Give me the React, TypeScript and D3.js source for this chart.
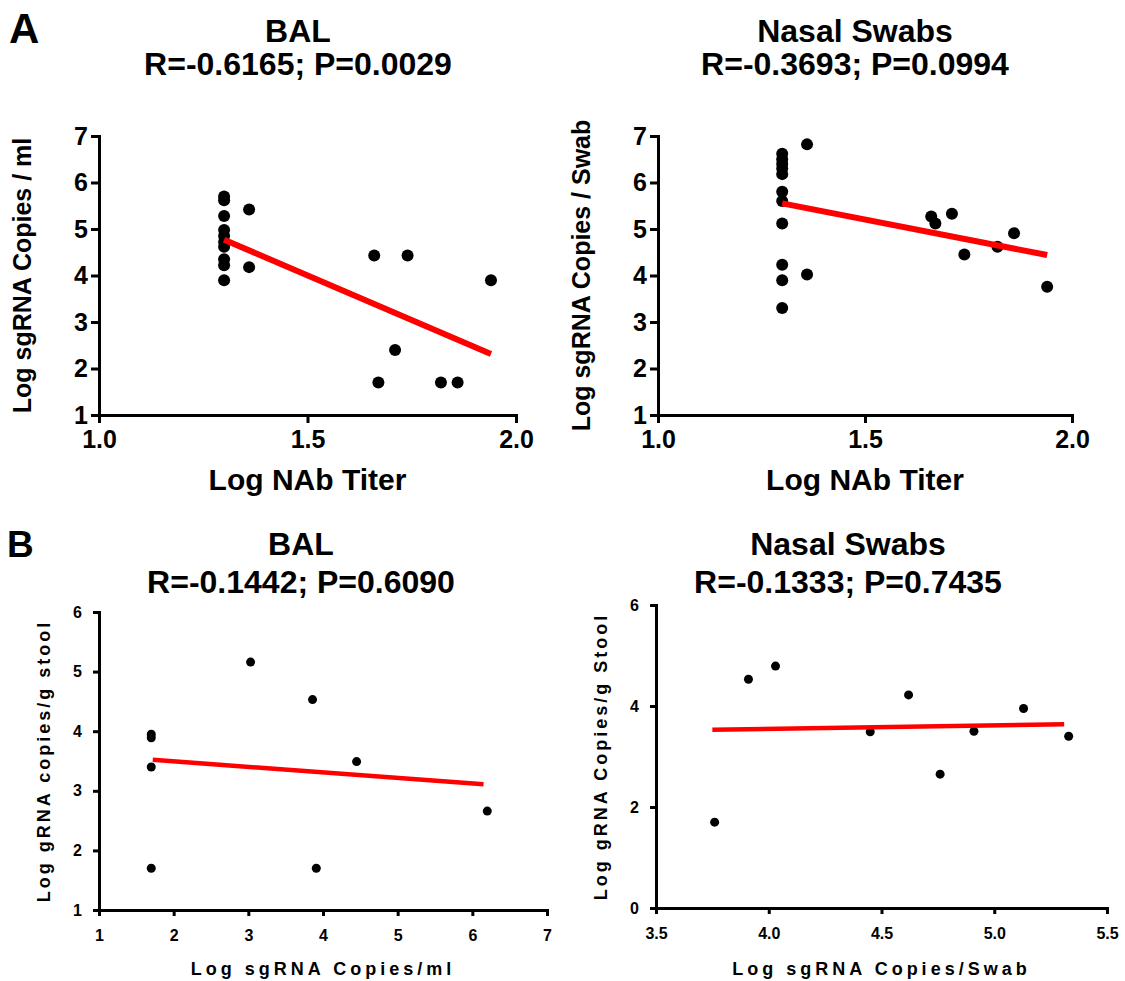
import React, { useEffect, useRef } from "react";
import * as d3 from "d3";

// A: NAb titer vs sgRNA
const balTiter = [1.3, 1.3, 1.3, 1.3, 1.3, 1.3, 1.3, 1.3, 1.3, 1.3, 1.36, 1.36, 1.66, 1.74, 1.94, 1.71, 1.67, 1.82, 1.86];
const balCopies = [5.7, 5.62, 5.28, 4.98, 4.85, 4.72, 4.62, 4.35, 4.22, 3.9, 5.42, 4.18, 4.43, 4.43, 3.9, 2.4, 1.7, 1.7, 1.7];
const balFitX = [1.3, 1.94];
const balFitY = [4.77, 2.31];

const nasalTiter = [1.3, 1.3, 1.3, 1.3, 1.3, 1.3, 1.3, 1.3, 1.3, 1.3, 1.3, 1.36, 1.36, 1.66, 1.67, 1.71, 1.74, 1.82, 1.86, 1.94];
const nasalCopies = [6.62, 6.5, 6.4, 6.3, 6.18, 5.8, 5.6, 5.12, 4.23, 3.9, 3.3, 6.82, 4.02, 5.27, 5.12, 5.33, 4.45, 4.62, 4.91, 3.76];
const nasalFitX = [1.3, 1.94];
const nasalFitY = [5.55, 4.44];

// B: sgRNA vs stool gRNA
const balSg = [1.7, 1.7, 1.7, 1.7, 3.03, 3.86, 4.45, 3.91, 6.2];
const balStool = [3.95, 3.89, 3.4, 1.7, 5.16, 4.53, 3.49, 1.7, 2.66];
const balStoolFitX = [1.72, 6.15];
const balStoolFitY = [3.52, 3.11];

const swabSg = [3.76, 3.91, 4.03, 4.45, 4.62, 4.76, 4.91, 5.13, 5.33];
const swabStool = [1.7, 4.53, 4.79, 3.49, 4.22, 2.65, 3.5, 3.95, 3.4];
const swabStoolFitX = [3.75, 5.31];
const swabStoolFitY = [3.53, 3.64];

const ticksTiter = [1.0, 1.5, 2.0];
const ticksCopiesA = [1, 2, 3, 4, 5, 6, 7];
const ticksSgB1 = [1, 2, 3, 4, 5, 6, 7];
const ticksStoolB1 = [1, 2, 3, 4, 5, 6];
const ticksSgB2 = [3.5, 4.0, 4.5, 5.0, 5.5];
const ticksStoolB2 = [0, 2, 4, 6];

const FONT = "'Liberation Sans', Arial, sans-serif";

const panels = [
  {
    xs: balTiter, ys: balCopies, fx: balFitX, fy: balFitY,
    xDomain: [1, 2], yDomain: [1, 7], xRange: [99, 516], yRange: [415, 136],
    xTicks: ticksTiter, yTicks: ticksCopiesA, xFmt: ".1f",
    title: ["BAL", "R=-0.6165; P=0.0029"], titleX: 298, titleY: [42, 75], titleSize: 32,
    xLabel: "Log NAb Titer", yLabel: "Log sgRNA Copies / ml",
    big: true,
  },
  {
    xs: nasalTiter, ys: nasalCopies, fx: nasalFitX, fy: nasalFitY,
    xDomain: [1, 2], yDomain: [1, 7], xRange: [658, 1072], yRange: [415, 136],
    xTicks: ticksTiter, yTicks: ticksCopiesA, xFmt: ".1f",
    title: ["Nasal Swabs", "R=-0.3693; P=0.0994"], titleX: 855, titleY: [42, 75], titleSize: 32,
    xLabel: "Log NAb Titer", yLabel: "Log sgRNA Copies / Swab",
    big: true,
  },
  {
    xs: balSg, ys: balStool, fx: balStoolFitX, fy: balStoolFitY,
    xDomain: [1, 7], yDomain: [1, 6], xRange: [99, 547], yRange: [910, 612],
    xTicks: ticksSgB1, yTicks: ticksStoolB1, xFmt: "d",
    title: ["BAL", "R=-0.1442; P=0.6090"], titleX: 301, titleY: [555, 593], titleSize: 32,
    xLabel: "Log sgRNA Copies/ml", yLabel: "Log gRNA copies/g stool",
    big: false,
  },
  {
    xs: swabSg, ys: swabStool, fx: swabStoolFitX, fy: swabStoolFitY,
    xDomain: [3.5, 5.5], yDomain: [0, 6], xRange: [656, 1107], yRange: [908, 605],
    xTicks: ticksSgB2, yTicks: ticksStoolB2, xFmt: ".1f",
    title: ["Nasal Swabs", "R=-0.1333; P=0.7435"], titleX: 848, titleY: [555, 593], titleSize: 32,
    xLabel: "Log sgRNA Copies/Swab", yLabel: "Log gRNA Copies/g Stool",
    big: false,
  },
];

const App = () => {
  const svgRef = useRef(null);

  useEffect(() => {
    document.body.style.margin = "0";
    const svg = d3.select(svgRef.current);
    svg.selectAll("*").remove();
    svg.attr("font-family", FONT).attr("font-weight", "bold");

    svg.append("text").attr("x", 9).attr("y", 43).attr("font-size", 42).text("A");
    svg.append("text").attr("x", 7).attr("y", 557).attr("font-size", 37).text("B");

    panels.forEach((p) => {
      const x = d3.scaleLinear().domain(p.xDomain).range(p.xRange);
      const y = d3.scaleLinear().domain(p.yDomain).range(p.yRange);
      const g = svg.append("g");
      const axisW = 3;
      const tickLen = p.big ? 8 : 6;
      const tickFont = p.big ? 25 : 16;

      const xAxis = g
        .append("g")
        .attr("transform", `translate(0,${p.yRange[0]})`)
        .call(
          d3.axisBottom(x).tickValues(p.xTicks).tickSize(tickLen).tickSizeOuter(0)
            .tickPadding(p.big ? 7 : 14).tickFormat(d3.format(p.xFmt))
        );
      const yAxis = g
        .append("g")
        .attr("transform", `translate(${p.xRange[0]},0)`)
        .call(
          d3.axisLeft(y).tickValues(p.yTicks).tickSize(tickLen).tickSizeOuter(0)
            .tickPadding(p.big ? 3 : 11).tickFormat(d3.format("d"))
        );
      [xAxis, yAxis].forEach((a) => {
        a.select(".domain").attr("stroke", "#000").attr("stroke-width", axisW).attr("stroke-linecap", "square");
        a.selectAll(".tick line").attr("stroke", "#000").attr("stroke-width", axisW);
        a.selectAll(".tick text")
          .attr("fill", "#000")
          .attr("font-family", FONT)
          .attr("font-weight", "bold")
          .attr("font-size", tickFont);
      });

      // points
      g.selectAll("circle")
        .data(p.xs.map((v, i) => [v, p.ys[i]]))
        .enter()
        .append("circle")
        .attr("cx", (d) => x(d[0]))
        .attr("cy", (d) => y(d[1]))
        .attr("r", p.big ? 6 : 4.5)
        .attr("fill", "#000");

      // regression line
      const line = d3.line().x((d) => x(d[0])).y((d) => y(d[1]));
      g.append("path")
        .datum(p.fx.map((v, i) => [v, p.fy[i]]))
        .attr("d", line)
        .attr("fill", "none")
        .attr("stroke", "#ff0000")
        .attr("stroke-width", p.big ? 6 : 4.5);

      // titles
      p.title.forEach((t, i) => {
        g.append("text")
          .attr("x", p.titleX)
          .attr("y", p.titleY[i])
          .attr("text-anchor", "middle")
          .attr("font-size", p.titleSize)
          .text(t);
      });

      const xMid = (p.xRange[0] + p.xRange[1]) / 2;
      const yMid = (p.yRange[0] + p.yRange[1]) / 2;
      if (p.big) {
        g.append("text")
          .attr("x", xMid)
          .attr("y", 490)
          .attr("text-anchor", "middle")
          .attr("font-size", 30)
          .text(p.xLabel);
        g.append("text")
          .attr("transform", `translate(${p.xRange[0] - 68},${yMid}) rotate(-90)`)
          .attr("text-anchor", "middle")
          .attr("font-size", 25)
          .text(p.yLabel);
      } else {
        g.append("text")
          .attr("x", xMid)
          .attr("y", 975)
          .attr("text-anchor", "middle")
          .attr("font-size", 18)
          .attr("letter-spacing", 4)
          .text(p.xLabel);
        g.append("text")
          .attr("transform", `translate(${p.xRange[0] - 49},${yMid}) rotate(-90)`)
          .attr("text-anchor", "middle")
          .attr("font-size", 18)
          .attr("letter-spacing", 3)
          .text(p.yLabel);
      }
    });
  }, []);

  return <svg ref={svgRef} width={1125} height={981} style={{ display: "block" }}></svg>;
};

export default App;
